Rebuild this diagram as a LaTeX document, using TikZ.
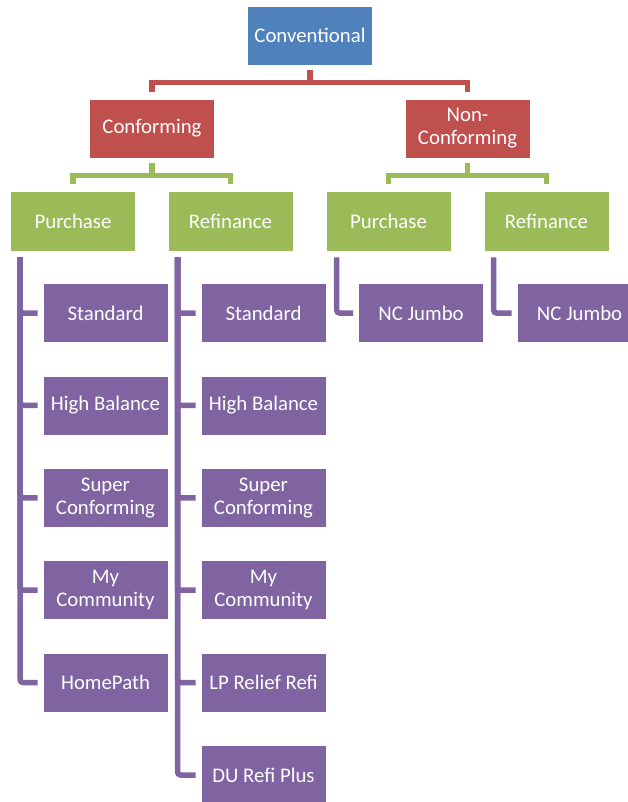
\documentclass[tikz,border=0pt]{standalone}
\usepackage{fontspec}
\setmainfont{Carlito}
\usetikzlibrary{positioning}

\definecolor{offblue}{HTML}{4F81BD}
\definecolor{offred}{HTML}{C0504D}
\definecolor{offgreen}{HTML}{9BBB59}
\definecolor{offpurple}{HTML}{8064A2}

\begin{document}
\begin{tikzpicture}[x=1pt,y=-1pt,
	box/.style={draw=white, line width=0.8pt, text=white, align=center, inner sep=0pt,
		font=\fontsize{20.8}{23}\selectfont, minimum width=125pt, minimum height=59pt},
	loanbox/.style={box, fill=offgreen, minimum height=60pt},
	prodbox/.style={box, fill=offpurple},
	link/.style={line width=5.5pt, shorten <=5pt, shorten >=7pt},
	comb/.style={line width=5.5pt, offpurple, rounded corners=3pt, shorten >=5pt}]
	\useasboundingbox (0,0) rectangle (628,802);

	\node[box, fill=offblue] (conv) at (310,35.5) {Conventional};
	\node[box, fill=offred] (conf) at (152,128.5) {Conforming};
	\node[box, fill=offred] (nconf) at (467.5,128.5) {Non-\\Conforming};

	\draw[link, offred] (conv.south) -- ++(0,17) -| (conf.north);
	\draw[link, offred] (conv.south) -- ++(0,17) -| (nconf.north);

	\node[loanbox] (cpur) at (73,221) {Purchase};
	\node[loanbox] (cref) at (230.5,221) {Refinance};
	\node[loanbox] (npur) at (388.5,221) {Purchase};
	\node[loanbox] (nref) at (546.5,221) {Refinance};

	\draw[link, offgreen] (conf.south) -- ++(0,17) -| (cpur.north);
	\draw[link, offgreen] (conf.south) -- ++(0,17) -| (cref.north);
	\draw[link, offgreen] (nconf.south) -- ++(0,17) -| (npur.north);
	\draw[link, offgreen] (nconf.south) -- ++(0,17) -| (nref.north);

	% products under each loan type
	\foreach \t [count=\i] in {Standard, High Balance, {Super\\Conforming}, {My\\Community}, HomePath} {
		\node[prodbox] (cpur\i) at (105.5,{313+92.4*(\i-1)}) {\t};
		\draw[comb] ([xshift=10pt,yshift=-6pt]cpur.south west) |- (cpur\i.west);
	}
	\foreach \t [count=\i] in {Standard, High Balance, {Super\\Conforming}, {My\\Community}, LP Relief Refi, DU Refi Plus} {
		\node[prodbox] (cref\i) at (263.5,{313+92.4*(\i-1)}) {\t};
		\draw[comb] ([xshift=10pt,yshift=-6pt]cref.south west) |- (cref\i.west);
	}
	\node[prodbox] (npur1) at (421,313) {NC Jumbo};
	\draw[comb] ([xshift=11pt,yshift=-6pt]npur.south west) |- (npur1.west);
	\node[prodbox] (nref1) at (579.5,313) {NC Jumbo};
	\draw[comb] ([xshift=10pt,yshift=-6pt]nref.south west) |- (nref1.west);
\end{tikzpicture}
\end{document}
